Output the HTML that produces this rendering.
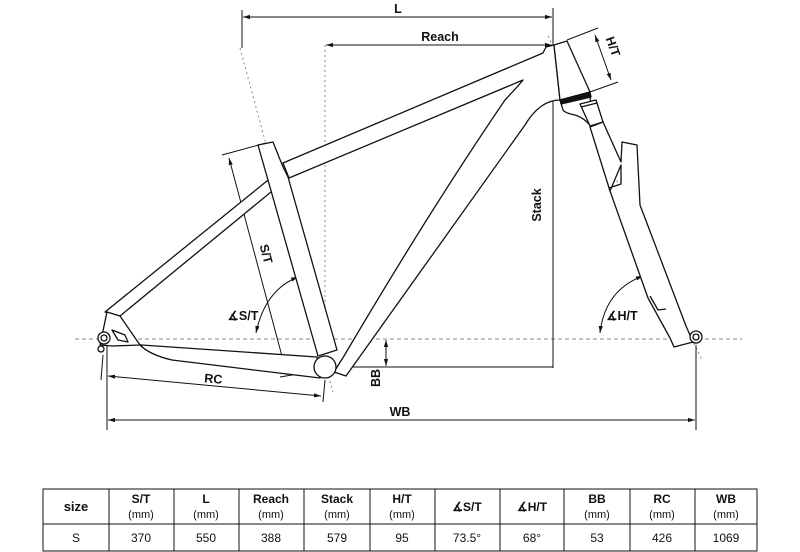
<!DOCTYPE html>
<html><head><style>
body{margin:0;background:#fff;width:800px;height:552px;overflow:hidden}
svg{display:block}
text{font-family:"Liberation Sans",sans-serif;fill:#111}
.b{font-weight:bold}
</style></head><body>
<svg width="800" height="552" viewBox="0 0 800 552">
<defs>
<marker id="a" viewBox="0 0 10 10" refX="10" refY="5" markerWidth="7" markerHeight="7" orient="auto-start-reverse"><path d="M0,2 L10,5 L0,8z" fill="#111"/></marker>
</defs>
<g stroke="#111" fill="none" stroke-width="1">
<line x1="75" y1="339" x2="742" y2="339" stroke="#888" stroke-dasharray="4,3"/>
<line x1="325" y1="45" x2="325" y2="367" stroke="#888" stroke-dasharray="2,3"/>
<line x1="240" y1="48" x2="333" y2="392" stroke="#888" stroke-dasharray="2,3"/>
<line x1="548" y1="36" x2="702" y2="360" stroke="#888" stroke-dasharray="2,3"/>
<line x1="242" y1="10" x2="242" y2="48"/>
<line x1="553" y1="8" x2="553" y2="48"/>
<line x1="243" y1="17" x2="552" y2="17" marker-start="url(#a)" marker-end="url(#a)"/>
<line x1="326" y1="45" x2="552" y2="45" marker-start="url(#a)" marker-end="url(#a)"/>
<line x1="553" y1="48" x2="553" y2="368" marker-start="url(#a)"/>
<line x1="325" y1="367" x2="553" y2="367"/>
<line x1="567" y1="40" x2="598" y2="28"/>
<line x1="590" y1="92" x2="618" y2="82"/>
<line x1="595" y1="35" x2="611" y2="80" marker-start="url(#a)" marker-end="url(#a)"/>
<line x1="386" y1="340" x2="386" y2="366" marker-start="url(#a)" marker-end="url(#a)"/>
<line x1="107" y1="345" x2="107" y2="430"/>
<line x1="696" y1="345" x2="696" y2="430"/>
<line x1="108" y1="420" x2="695" y2="420" marker-start="url(#a)" marker-end="url(#a)"/>
<line x1="103" y1="355" x2="101" y2="380"/>
<line x1="325" y1="380" x2="323" y2="402"/>
<line x1="108" y1="376" x2="321" y2="396" marker-start="url(#a)" marker-end="url(#a)"/>
<line x1="222" y1="155" x2="266" y2="143"/>
<line x1="280" y1="377" x2="310" y2="372"/>
<line x1="229" y1="158" x2="287" y2="375" marker-start="url(#a)" marker-end="url(#a)"/>
<path d="M298,277 Q265,290 256,333" marker-start="url(#a)" marker-end="url(#a)"/>
<path d="M643,276 Q605,290 600,333" marker-start="url(#a)" marker-end="url(#a)"/>
</g>
<g stroke="#111" fill="#fff" stroke-width="1.3" stroke-linejoin="round">
<path d="M112,343 L317,357 L320,378 L172,360 Q150,355 140,345 Z"/>
<path d="M283,168 L288,178 L120,316 L105,312 Z"/>
<path d="M107,312 L120,316 L140,345 L112,346 L100,345 Z"/>
<path d="M112,330 L125,335 L128,342 L118,340 Z" fill="none"/>
<circle cx="104" cy="338" r="6"/>
<circle cx="104" cy="338" r="3"/>
<circle cx="101" cy="349" r="3"/>
<path d="M258,145 L273,142 L283,167 L288,177 L337,350 L318,356 Z"/>
<path d="M283,163 L543,53 L546,47 L554,45 L560,100 Q540,100 525,125 L346,376 L334,372 L344,356 Q430,210 505,100 Q520,84 523,80 L289,178 Z"/>
<path d="M554,45 L567,41 Q580,70 590,92 L560,100 Z"/>
<!-- lower headset cup -->
<path d="M561,103 L590,95 L592,128 Q585,118 575,115 Q565,113 563,110 Z"/>
<path d="M560,100 L590,92 L591,97 L561,104 Z" fill="#111"/>
<!-- steerer / crown box -->
<path d="M580,104 L596,100 L603,122 L590,126 Z"/>
<line x1="581" y1="107" x2="597" y2="103"/>
<!-- fork -->
<path d="M590,127 L603,122 L621,162 L622,142 L637,145 L640,205 L686,326 L693,342 L674,347 L670,338 L648,298 L610,191 L609,188 L621,184 L621,165 L610,191 Z"/>
<path d="M650,296 L658,310 L666,309" fill="none"/>
<circle cx="696" cy="337" r="6"/>
<circle cx="696" cy="337" r="3"/>
<circle cx="325" cy="367" r="11"/>
</g>
<g font-size="12.5" class="b">
<text x="398" y="13" text-anchor="middle" class="b">L</text>
<text x="440" y="41" text-anchor="middle" class="b">Reach</text>
<text x="400" y="416" text-anchor="middle" class="b">WB</text>
<text transform="translate(213,383) rotate(5)" text-anchor="middle" class="b">RC</text>
<text transform="translate(380,378) rotate(-90)" text-anchor="middle" class="b">BB</text>
<text transform="translate(541,205) rotate(-90)" text-anchor="middle" class="b">Stack</text>
<text transform="translate(262,255) rotate(75)" text-anchor="middle" class="b">S/T</text>
<text transform="translate(609,48) rotate(70)" text-anchor="middle" class="b">H/T</text>
<text x="243" y="320" text-anchor="middle" class="b">∡S/T</text>
<text x="622" y="320" text-anchor="middle" class="b">∡H/T</text>
</g>
<g stroke="#111" stroke-width="1" fill="none">
<rect x="43" y="489" width="714" height="62"/>
<line x1="43" y1="524" x2="757" y2="524"/>
<line x1="109" y1="489" x2="109" y2="551"/>
<line x1="174" y1="489" x2="174" y2="551"/>
<line x1="239" y1="489" x2="239" y2="551"/>
<line x1="304" y1="489" x2="304" y2="551"/>
<line x1="370" y1="489" x2="370" y2="551"/>
<line x1="435" y1="489" x2="435" y2="551"/>
<line x1="500" y1="489" x2="500" y2="551"/>
<line x1="564" y1="489" x2="564" y2="551"/>
<line x1="630" y1="489" x2="630" y2="551"/>
<line x1="695" y1="489" x2="695" y2="551"/>
</g>
<g text-anchor="middle" font-size="12">
<text x="76" y="511" class="b" font-size="13">size</text>
<text x="141" y="503" class="b">S/T</text><text x="141" y="518" font-size="11">(mm)</text>
<text x="206" y="503" class="b">L</text><text x="206" y="518" font-size="11">(mm)</text>
<text x="271" y="503" class="b">Reach</text><text x="271" y="518" font-size="11">(mm)</text>
<text x="337" y="503" class="b">Stack</text><text x="337" y="518" font-size="11">(mm)</text>
<text x="402" y="503" class="b">H/T</text><text x="402" y="518" font-size="11">(mm)</text>
<text x="467" y="511" class="b">∡S/T</text>
<text x="532" y="511" class="b">∡H/T</text>
<text x="597" y="503" class="b">BB</text><text x="597" y="518" font-size="11">(mm)</text>
<text x="662" y="503" class="b">RC</text><text x="662" y="518" font-size="11">(mm)</text>
<text x="726" y="503" class="b">WB</text><text x="726" y="518" font-size="11">(mm)</text>
<text x="76" y="542">S</text>
<text x="141" y="542">370</text>
<text x="206" y="542">550</text>
<text x="271" y="542">388</text>
<text x="337" y="542">579</text>
<text x="402" y="542">95</text>
<text x="467" y="542">73.5°</text>
<text x="532" y="542">68°</text>
<text x="597" y="542">53</text>
<text x="662" y="542">426</text>
<text x="726" y="542">1069</text>
</g>
</svg>
</body></html>
